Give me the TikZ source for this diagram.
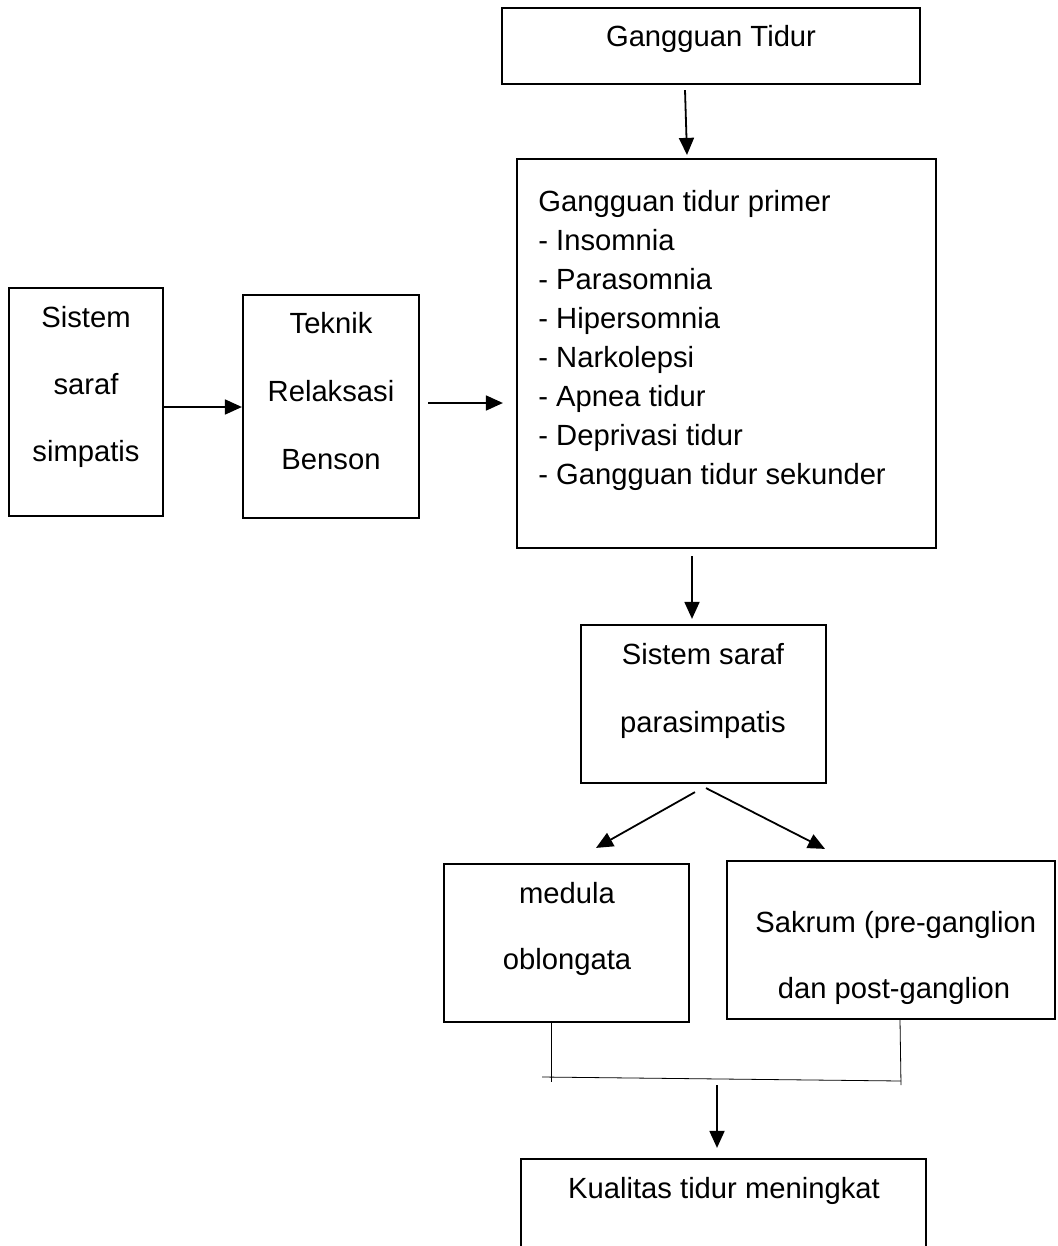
\documentclass[tikz,border=0pt]{standalone}
\usepackage{fontspec}
\setmainfont{Liberation Sans}
\usetikzlibrary{arrows.meta,fit,calc}
\tikzset{
  box/.style={draw=black, line width=1.1pt, inner sep=0pt, fill=none},
  txt/.style={inner sep=0pt, font=\fontsize{14.6}{17}\selectfont},
  arr/.style={draw=black, line width=0.9pt, -{Triangle[length=8.5pt,width=7.5pt]}},
  bline/.style={draw=black, line width=0.4pt},
}
\begin{document}
\begin{tikzpicture}[x=0.5pt,y=-0.5pt]
\useasboundingbox (0,0) rectangle (1057,1246);
% boxes
\node[box, fit={(502,8) (920,84)}] (gt) {};
\node[box, fit={(517,159) (936,548)}] (prim) {};
\node[box, fit={(9,288) (163,516)}] (simp) {};
\node[box, fit={(243,295) (419,518)}] (benson) {};
\node[box, fit={(581,625) (826,783)}] (para) {};
\node[box, fit={(444,864) (689,1022)}] (med) {};
\node[box, fit={(727,861) (1055,1019)}] (sak) {};
\node[box, fit={(521,1159) (926,1262)}] (kual) {};
% texts
\node[txt, anchor=base] (tgt) at (711,47) {Gangguan Tidur};
\foreach \t [count=\i] in {Gangguan tidur primer, - Insomnia, - Parasomnia, - Hipersomnia, - Narkolepsi, - Apnea tidur, - Deprivasi tidur, - Gangguan tidur sekunder}
  \node[txt, anchor=base west] (p\i) at ({538},{212+38.9*(\i-1)}) {\t};
\node[txt, anchor=base] (s1) at (86,327) {Sistem};
\node[txt, anchor=base] (s2) at (86,394) {saraf};
\node[txt, anchor=base] (s3) at (86,461) {simpatis};
\node[txt, anchor=base] (b1) at (331,333) {Teknik};
\node[txt, anchor=base] (b2) at (331,401) {Relaksasi};
\node[txt, anchor=base] (b3) at (331,469) {Benson};
\node[txt, anchor=base] (q1) at (703,664) {Sistem saraf};
\node[txt, anchor=base] (q2) at (703,732) {parasimpatis};
\node[txt, anchor=base] (m1) at (567,903) {medula};
\node[txt, anchor=base] (m2) at (567,969) {oblongata};
\node[txt, anchor=base west] (k1) at (755,932) {Sakrum (pre-ganglion};
\node[txt, anchor=base] (k2) at (894,998) {dan post-ganglion};
\node[txt, anchor=base] (kq) at (724,1198) {Kualitas tidur meningkat};
% arrows
\draw[arr] ([shift={(-26,5)}]gt.south) -- ([shift={(-39.5,-3)}]prim.north);
\draw[arr] ([shift={(0,5)}]simp.east) -- ([shift={(0,0.5)}]benson.west);
\draw[arr] ([shift={(8,-3.5)}]benson.east) -- ([shift={(-13,49.5)}]prim.west);
\draw[arr] ([shift={(-34.5,7)}]prim.south) -- ([shift={(-11.5,-5)}]para.north);
\draw[arr] ([shift={(-8.5,8)}]para.south) -- ([shift={(29.5,-15)}]med.north);
\draw[arr] ([shift={(2.5,4)}]para.south) -- ([shift={(-66,-11)}]sak.north);
% joining lines
\coordinate (jl) at (551,1082);
\coordinate (jls) at (542,1077);
\coordinate (jr) at (901,1085);
\coordinate (jre) at (901,1081);
\coordinate (jm) at (717,1085);
\draw[bline] ([shift={(-15.5,0)}]med.south) -- (jl);
\draw[bline] ([shift={(9,0)}]sak.south) -- (jr);
\draw[bline] (jls) -- (jre);
\draw[arr] (jm) -- ([shift={(-6.5,-10)}]kual.north);
\end{tikzpicture}
\end{document}
